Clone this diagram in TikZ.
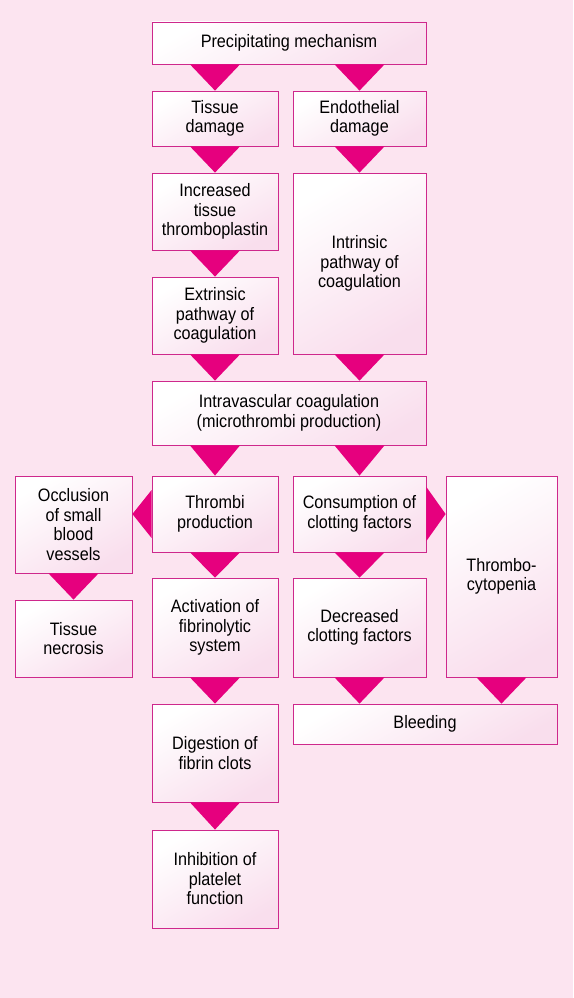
\documentclass[tikz,border=0pt]{standalone}
\usepackage{fontspec}
\setmainfont{Liberation Sans}[FakeStretch=0.9]
\usetikzlibrary{calc}
\definecolor{bgpink}{RGB}{252,228,240}
\definecolor{boxpink}{RGB}{249,222,237}
\definecolor{edgemag}{RGB}{206,40,140}
\definecolor{trimag}{RGB}{230,0,126}
\tikzset{
  box/.style={draw=edgemag, line width=0.8pt, top color=white, bottom color=boxpink, shading angle=30,
    align=center, inner sep=0pt, font=\fontsize{18}{19.5}\selectfont},
  tri/.style={fill=trimag, draw=none}
}
\newcommand{\DT}[3]{\fill[tri] ($(#1.south -| #3)+(-25,0)$) -- ($(#1.south -| #3)+(25,0)$) -- (#2.north -| #3) -- cycle;}
\begin{document}
\begin{tikzpicture}[x=1pt,y=-1pt]
\fill[bgpink] (0,0) rectangle (573,998);
\useasboundingbox (0,0) rectangle (573,998);
\newcommand{\B}[6]{\node[box, minimum width=#4pt, minimum height=#5pt] (#1) at (#2,#3) {#6};}
\B{prec}{289}{43}{274}{42}{Precipitating mechanism}
\B{tissue}{215}{118.5}{126}{55}{Tissue\\damage}
\B{endo}{359.5}{118.5}{133}{55}{Endothelial\\damage}
\B{incr}{215}{211.5}{126}{77}{Increased\\tissue\\thromboplastin}
\B{intr}{359.5}{263.5}{133}{181}{Intrinsic\\pathway of\\coagulation}
\B{extr}{215}{315.5}{126}{77}{Extrinsic\\pathway of\\coagulation}
\B{intra}{289}{413}{274}{64}{Intravascular coagulation\\(microthrombi production)}
\B{occl}{73.5}{524.5}{117}{97}{Occlusion\\of small\\blood\\vessels}
\B{thromb}{215}{514}{126}{76}{Thrombi\\production}
\B{cons}{359.5}{514}{133}{76}{Consumption of\\clotting factors}
\B{tcp}{501.5}{576.5}{111}{201}{Thrombo-\\cytopenia}
\B{necr}{73.5}{638.5}{117}{77}{Tissue\\necrosis}
\B{activ}{215}{627.5}{126}{99}{Activation of\\fibrinolytic\\system}
\B{decr}{359.5}{627.5}{133}{99}{Decreased\\clotting factors}
\B{bleed}{425}{724}{264}{40}{Bleeding}
\B{dig}{215}{753}{126}{98}{Digestion of\\fibrin clots}
\B{inhib}{215}{879}{126}{98}{Inhibition of\\platelet\\function}
\DT{prec}{tissue}{tissue}
\DT{prec}{endo}{endo}
\DT{tissue}{incr}{tissue}
\DT{endo}{intr}{endo}
\DT{incr}{extr}{incr}
\DT{extr}{intra}{extr}
\DT{intr}{intra}{intr}
\DT{intra}{thromb}{thromb}
\DT{intra}{cons}{cons}
\DT{occl}{necr}{occl}
\DT{thromb}{activ}{thromb}
\DT{cons}{decr}{cons}
\DT{activ}{dig}{activ}
\DT{decr}{bleed}{decr}
\DT{tcp}{bleed}{tcp}
\DT{dig}{inhib}{dig}
\fill[tri] ($(thromb.west)+(0,-24)$) -- ($(thromb.west)+(0,24)$) -- (occl.east |- thromb.west) -- cycle;
\fill[tri] ($(cons.east)+(0,-27)$) -- ($(cons.east)+(0,27)$) -- (tcp.west |- cons.east) -- cycle;
\end{tikzpicture}
\end{document}
